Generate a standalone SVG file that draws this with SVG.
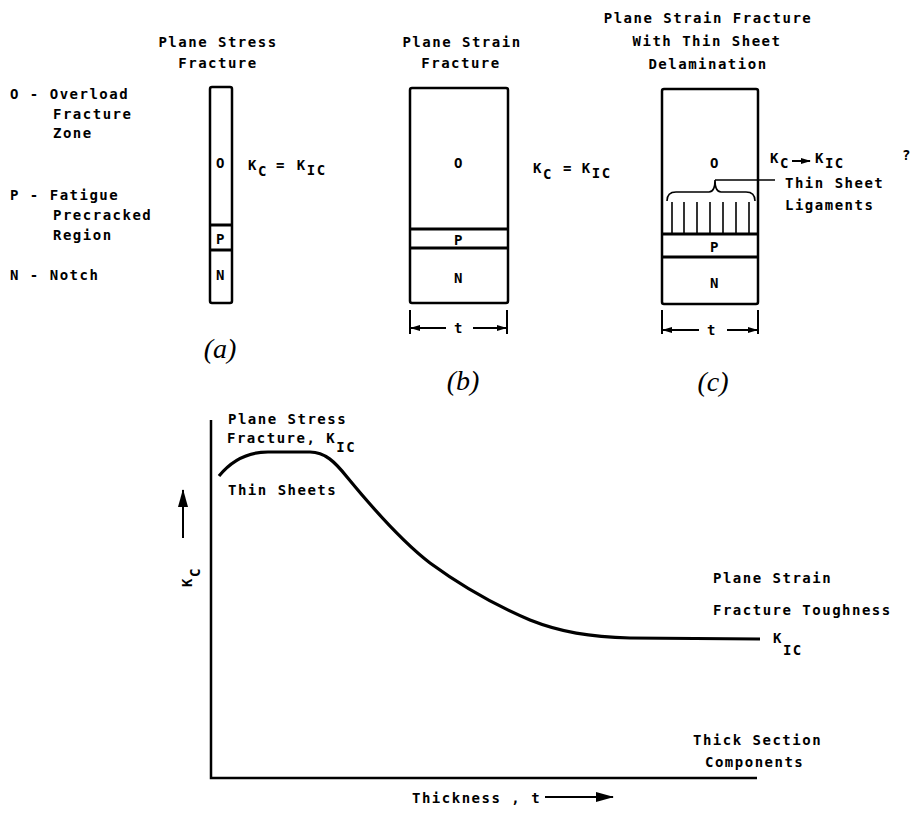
<svg xmlns="http://www.w3.org/2000/svg" width="915" height="816" viewBox="0 0 915 816">
<defs>
<style>
.t{font-family:"DejaVu Sans Mono","Liberation Mono",monospace;font-weight:bold;font-size:14px;letter-spacing:1.5px;fill:#000}
.tc{text-anchor:middle}
.lab{font-family:"Liberation Serif",serif;font-style:italic;font-size:28px;fill:#000;text-anchor:middle}
.box{fill:none;stroke:#000;stroke-width:2.5}
.div{stroke:#000;stroke-width:3}
.thin{stroke:#000;stroke-width:1.6;fill:none}
.ax{stroke:#000;stroke-width:2.5;fill:none}
.curve{stroke:#000;stroke-width:3.2;fill:none}
.dim{stroke:#000;stroke-width:2;fill:none}
</style>
<marker id="ahS" viewBox="0 0 10 6" refX="9" refY="3" markerWidth="10" markerHeight="6" markerUnits="userSpaceOnUse" orient="auto"><path d="M0,0 L10,3 L0,6 z"/></marker>
<marker id="ahL" viewBox="0 0 18 10" refX="17" refY="5" markerWidth="18" markerHeight="10" markerUnits="userSpaceOnUse" orient="auto"><path d="M0,0 L18,5 L0,10 z"/></marker>
</defs>
<rect width="915" height="816" fill="#fff"/>

<g id="legend">
<text class="t" x="10" y="99">O - Overload</text>
<text class="t" x="53" y="119">Fracture</text>
<text class="t" x="53" y="138">Zone</text>
<text class="t" x="10" y="200">P - Fatigue</text>
<text class="t" x="53" y="220">Precracked</text>
<text class="t" x="53" y="240">Region</text>
<text class="t" x="10" y="280">N - Notch</text>
</g>

<g id="panel-a">
<text class="t tc" x="218" y="47">Plane Stress</text>
<text class="t tc" x="218" y="68">Fracture</text>
<rect class="box" x="210" y="87" width="22" height="216" rx="2"/>
<line class="div" x1="210" y1="225" x2="232" y2="225"/>
<line class="div" x1="210" y1="250" x2="232" y2="250"/>
<text class="t tc" x="221" y="168">O</text>
<text class="t tc" x="221" y="244">P</text>
<text class="t tc" x="221" y="280">N</text>
<text class="t" x="248" y="170">K<tspan dy="6">C</tspan><tspan dy="-6" dx="8">=</tspan><tspan dx="11">K</tspan><tspan dy="5">IC</tspan></text>
<text class="lab" x="220" y="358">(a)</text>
</g>

<g id="panel-b">
<text class="t tc" x="462" y="47">Plane Strain</text>
<text class="t tc" x="461" y="68">Fracture</text>
<rect class="box" x="410" y="88" width="98" height="215" rx="2"/>
<line class="div" x1="410" y1="229" x2="508" y2="229"/>
<line class="div" x1="410" y1="248" x2="508" y2="248"/>
<text class="t tc" x="459" y="168">O</text>
<text class="t tc" x="459" y="245">P</text>
<text class="t tc" x="459" y="283">N</text>
<text class="t" x="533" y="173">K<tspan dy="6">C</tspan><tspan dy="-6" dx="10">=</tspan><tspan dx="9">K</tspan><tspan dy="5">IC</tspan></text>
<text class="t tc" x="459" y="333">t</text>
<text class="lab" x="463" y="390">(b)</text>
</g>

<g id="panel-c">
<text class="t tc" x="708" y="23">Plane Strain Fracture</text>
<text class="t tc" x="707" y="46">With Thin Sheet</text>
<text class="t tc" x="708" y="69">Delamination</text>
<rect class="box" x="662" y="89" width="96" height="215" rx="2"/>
<line class="div" x1="662" y1="234" x2="758" y2="234"/>
<line class="div" x1="662" y1="257" x2="758" y2="257"/>
<g class="thin">
<line x1="672" y1="202" x2="672" y2="233"/>
<line x1="684" y1="202" x2="684" y2="233"/>
<line x1="697" y1="202" x2="697" y2="233"/>
<line x1="710" y1="202" x2="710" y2="233"/>
<line x1="723" y1="202" x2="723" y2="233"/>
<line x1="736" y1="202" x2="736" y2="233"/>
<line x1="749" y1="202" x2="749" y2="233"/>
</g>
<text class="t tc" x="715" y="168">O</text>
<text class="t tc" x="715" y="252">P</text>
<text class="t tc" x="715" y="288">N</text>
<text class="t" x="770" y="163">K<tspan dy="5">C</tspan></text>
<text class="t" x="815" y="163">K<tspan dy="5">IC</tspan></text>
<text class="t" x="902" y="160">?</text>
<text class="t" x="785" y="188">Thin Sheet</text>
<text class="t" x="785" y="210">Ligaments</text>
<text class="t tc" x="712" y="335">t</text>
<text class="lab" x="713" y="391">(c)</text>
</g>

<g id="graph">
<text class="t" x="228" y="424">Plane Stress</text>
<text class="t" x="227" y="443">Fracture, K<tspan dy="9">IC</tspan></text>
<text class="t" x="228" y="495">Thin Sheets</text>
<text class="t" x="713" y="583">Plane Strain</text>
<text class="t" x="713" y="615">Fracture Toughness</text>
<text class="t" x="773" y="643">K<tspan dy="12">IC</tspan></text>
<text class="t" x="693" y="745">Thick Section</text>
<text class="t" x="705" y="767">Components</text>
<text class="t" x="412" y="803">Thickness , t</text>
<text class="t" transform="translate(192,587) rotate(-90)">K<tspan dy="8">C</tspan></text>
<path class="ax" d="M211,420 L211,778 L757,778"/>
<path class="curve" d="M219,476 C232,460 248,452 268,452 L310,452 C325,452 335,462 347,477 C370,505 400,540 430,563 C460,585 490,603 530,620 C560,632 590,637 630,638 L760,639"/>
</g>

<g id="connectors">
<line class="dim" x1="410" y1="310" x2="410" y2="334"/>
<line class="dim" x1="507" y1="310" x2="507" y2="334"/>
<path class="dim" d="M446,328 L411,328" marker-end="url(#ahS)"/>
<path class="dim" d="M473,328 L506,328" marker-end="url(#ahS)"/>
<line class="dim" x1="662" y1="310" x2="662" y2="334"/>
<line class="dim" x1="758" y1="310" x2="758" y2="334"/>
<path class="dim" d="M699,330 L663,330" marker-end="url(#ahS)"/>
<path class="dim" d="M727,330 L757,330" marker-end="url(#ahS)"/>
<path class="thin" d="M667,201 Q667,192 676,192 L709,192 Q715,192 715,180 Q715,192 721,192 L746,192 Q755,192 755,201"/>
<line class="thin" x1="715" y1="180" x2="775" y2="180"/>
<path class="dim" d="M792,161 L810,161" marker-end="url(#ahS)"/>
<path class="dim" d="M183,538 L183,490" marker-end="url(#ahL)"/>
<path class="dim" d="M545,797 L613,797" marker-end="url(#ahL)"/>
</g>
</svg>
